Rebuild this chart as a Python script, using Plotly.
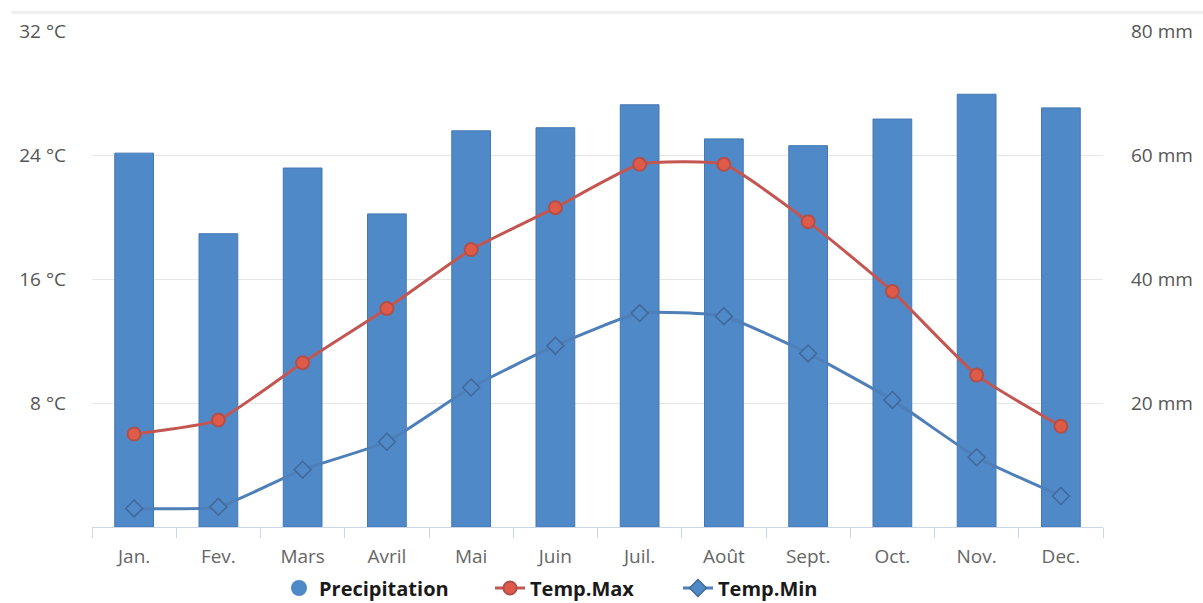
import plotly.graph_objects as go

months = ["Jan.", "Fev.", "Mars", "Avril", "Mai", "Juin", "Juil.", "Août", "Sept.", "Oct.", "Nov.", "Dec."]
precipitation_mm = [60.3, 47.3, 57.9, 50.5, 63.9, 64.4, 68.1, 62.6, 61.5, 65.8, 69.8, 67.6]
temp_max_c = [6.0, 6.9, 10.6, 14.1, 17.9, 20.6, 23.4, 23.4, 19.7, 15.2, 9.8, 6.5]
temp_min_c = [1.2, 1.3, 3.7, 5.5, 9.0, 11.7, 13.8, 13.6, 11.2, 8.2, 4.5, 2.0]

temp_ticks = [8, 16, 24, 32]
rain_ticks = [20, 40, 60, 80]

BAR_BLUE = "#4f89c7"
LEGEND_FONT = dict(family="Open Sans, sans-serif", size=20, color="#1a1a1a", weight="bold")

fig = go.Figure()

# precipitation bars on the primary (mm) axis, drawn first so the lines sit on top
fig.add_trace(go.Bar(
    x=months, y=precipitation_mm, name="Precipitation", yaxis="y", showlegend=False,
    marker=dict(color=BAR_BLUE, line=dict(color="#4478b4", width=1)),
))
# legend entry with a round swatch for the bars
fig.add_trace(go.Scatter(
    x=[None], y=[None], name="Precipitation", mode="markers", legend="legend",
    marker=dict(symbol="circle", size=18, color=BAR_BLUE),
))
fig.add_trace(go.Scatter(
    x=months, y=temp_max_c, name="Temp.Max", mode="lines+markers", yaxis="y2", legend="legend2",
    line=dict(color="#c45652", width=3, shape="spline", smoothing=0.45),
    marker=dict(symbol="circle", size=13, color="#e05a48", line=dict(color="#b0504c", width=2)),
))
fig.add_trace(go.Scatter(
    x=months, y=temp_min_c, name="Temp.Min", mode="lines+markers", yaxis="y2", legend="legend3",
    line=dict(color="#4e7fb8", width=3, shape="spline", smoothing=0.45),
    marker=dict(symbol="diamond", size=13, color=BAR_BLUE, line=dict(color="#41699a", width=1.5)),
))

def legend_at(x):
    return dict(orientation="h", x=x, xanchor="left", y=-0.123, yanchor="middle",
                font=LEGEND_FONT, bgcolor="rgba(0,0,0,0)")

fig.update_layout(
    width=1203, height=603,
    margin=dict(l=92, r=100, t=31, b=76, autoexpand=False),
    paper_bgcolor="white", plot_bgcolor="white",
    font=dict(family="Open Sans, DejaVu Sans, sans-serif", color="#666666", size=19),
    bargap=0.54,
    showlegend=True,
    legend=legend_at((279 - 92) / 1011),
    legend2=legend_at((490 - 92) / 1011),
    legend3=legend_at((678 - 92) / 1011),
    xaxis=dict(
        type="category", range=[-0.5, 11.5], showgrid=False, showline=True,
        linecolor="#ccd6eb", linewidth=1,
        ticks="outside", tickson="boundaries", ticklen=10, tickcolor="#ccd6eb",
        tickfont=dict(size=19, color="#666666"), ticklabelstandoff=12, automargin=False,
    ),
    yaxis=dict(
        range=[0, 80], tickvals=rain_ticks, ticktext=[f"{v} mm" for v in rain_ticks],
        side="right", showgrid=True, gridcolor="#e6e6e6", gridwidth=1, zeroline=False,
        tickfont=dict(size=19, color="#555555"), ticklabelstandoff=27, automargin=False,
    ),
    yaxis2=dict(
        range=[0, 32], tickvals=temp_ticks, ticktext=[f"{v} °C" for v in temp_ticks],
        overlaying="y", side="left", showgrid=False, zeroline=False,
        tickfont=dict(size=19, color="#555555"), ticklabelstandoff=25, automargin=False,
    ),
    shapes=[dict(type="line", xref="paper", yref="paper", x0=-0.08, x1=1.1, y0=1.038, y1=1.038,
                 line=dict(color="#eeeeee", width=3))],
)

fig.write_html("out.html")
